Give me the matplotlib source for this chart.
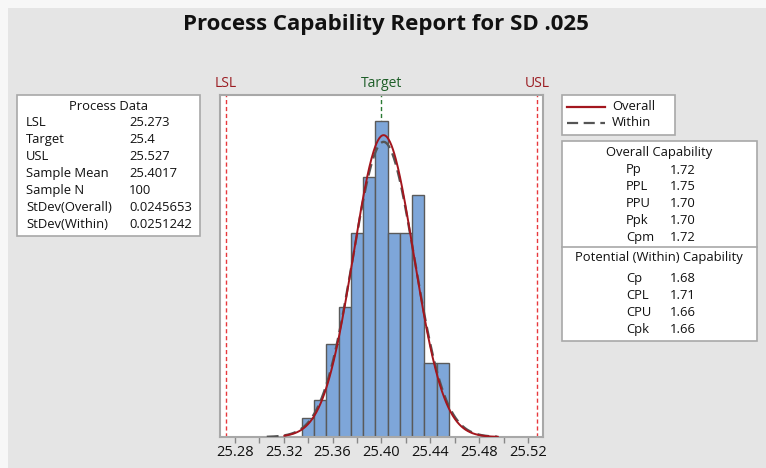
import numpy as np
import matplotlib.pyplot as plt
from matplotlib.patches import Rectangle
from matplotlib.ticker import MultipleLocator

plt.rcParams['font.family'] = ['Open Sans', 'DejaVu Sans']

# histogram data (bin width 0.01)
bin_edges = [25.335, 25.345, 25.355, 25.365, 25.375, 25.385, 25.395,
             25.405, 25.415, 25.425, 25.435, 25.445, 25.455]
counts = [1, 2, 5, 7, 11, 14, 17, 11, 11, 13, 4, 4]

lsl, target, usl = 25.273, 25.4, 25.527
mean, n = 25.4017, 100
sd_overall, sd_within = 0.0245653, 0.0251242

proc_labels = ['LSL', 'Target', 'USL', 'Sample Mean', 'Sample N',
               'StDev(Overall)', 'StDev(Within)']
proc_values = ['25.273', '25.4', '25.527', '25.4017', '100',
               '0.0245653', '0.0251242']
overall_labels = ['Pp', 'PPL', 'PPU', 'Ppk', 'Cpm']
overall_values = ['1.72', '1.75', '1.70', '1.70', '1.72']
within_labels = ['Cp', 'CPL', 'CPU', 'Cpk']
within_values = ['1.68', '1.71', '1.66', '1.66']

W, H = 766, 468
fig = plt.figure(figsize=(W / 100, H / 100), dpi=100)
fig.patch.set_facecolor('#f7f7f7')


def fx(x):
    return x / W


def fy(y):
    return 1 - y / H


def box(x0, y0, x1, y1):
    fig.patches.append(Rectangle((fx(x0), fy(y1)), fx(x1) - fx(x0), fy(y0) - fy(y1),
                                 transform=fig.transFigure, facecolor='white',
                                 edgecolor='#a8a8a8', lw=1.2, zorder=1))


def txt(x, y, s, ha='left', **kw):
    fig.text(fx(x), fy(y), s, ha=ha, va='center', fontsize=9.4, color='#111111', **kw)


# gray panel (behind everything)
fig.patches.append(Rectangle((fx(8), 0), 1, fy(8), transform=fig.transFigure,
                             facecolor='#e5e5e5', edgecolor='none', zorder=-10))

fig.text(fx(386), fy(24.5), 'Process Capability Report for SD .025', ha='center',
         va='center', fontsize=16, fontweight='bold', color='#111111')

# histogram
ax = fig.add_axes([fx(220), fy(437), fx(543) - fx(220), fy(95) - fy(437)])
ax.hist(bin_edges[:-1], bins=bin_edges, weights=counts, color='#7ea6d9',
        edgecolor='#5a5a5a', lw=1, zorder=2)
bw = bin_edges[1] - bin_edges[0]
xs = np.linspace(mean - 3.8 * sd_within, mean + 3.7 * sd_within, 300)
within_y = n * bw * np.exp(-0.5 * ((xs - mean) / sd_within) ** 2) / (sd_within * np.sqrt(2 * np.pi))
xo = np.linspace(mean - 3.3 * sd_overall, mean + 3.8 * sd_overall, 300)
overall_y = n * bw * np.exp(-0.5 * ((xo - mean) / sd_overall) ** 2) / (sd_overall * np.sqrt(2 * np.pi))
ax.plot(xs, within_y, color='#555555', lw=1.7, ls=(0, (5, 2.5)), zorder=4)
ax.plot(xo, overall_y, color='#a3161e', lw=1.4, zorder=5)
ax.axvline(lsl, color='#e8383d', lw=1, ls=(0, (3, 2)), zorder=1)
ax.axvline(usl, color='#e8383d', lw=1, ls=(0, (3, 2)), zorder=1)
ax.axvline(target, color='#2a7a33', lw=1, ls=(0, (3, 2)), zorder=1)
ax.set_xlim(25.268, 25.532)
ax.set_ylim(0, 18.4)
ax.set_yticks([])
ax.xaxis.set_minor_locator(MultipleLocator(0.02))
ticks = np.arange(25.28, 25.521, 0.04)
ax.set_xticks(ticks)
ax.set_xticklabels(['%.2f' % v for v in ticks])
ax.tick_params(axis='x', which='major', length=4, width=1, color='#888888',
               labelsize=10.5, labelcolor='#111111', pad=2)
ax.tick_params(axis='x', which='minor', length=4, width=1, color='#888888')
for s in ax.spines.values():
    s.set_color('#a8a8a8')
    s.set_linewidth(1.5)
ax.text(lsl, 1.012, 'LSL', transform=ax.get_xaxis_transform(), ha='center',
        va='bottom', fontsize=10, color='#9b1c22')
ax.text(usl, 1.012, 'USL', transform=ax.get_xaxis_transform(), ha='center',
        va='bottom', fontsize=10, color='#9b1c22')
ax.text(target, 1.012, 'Target', transform=ax.get_xaxis_transform(), ha='center',
        va='bottom', fontsize=10, color='#1e5e28')

# process data table
box(17, 95, 200, 236)
txt(108, 106, 'Process Data', ha='center')
for i, (lab, val) in enumerate(zip(proc_labels, proc_values)):
    y = 122.7 + i * 16.95
    txt(26, y, lab)
    txt(129, y, val)

# legend
box(562, 95, 675, 135)
fig.lines.append(plt.Line2D([fx(567), fx(605)], [fy(106.5)] * 2, transform=fig.transFigure,
                            color='#a3161e', lw=1.6))
fig.lines.append(plt.Line2D([fx(567), fx(605)], [fy(122.5)] * 2, transform=fig.transFigure,
                            color='#555555', lw=1.6, ls=(0, (5, 2.5))))
txt(612, 106.5, 'Overall')
txt(612, 122.5, 'Within')

# capability table
box(562, 141, 757, 341)
fig.lines.append(plt.Line2D([fx(562), fx(757)], [fy(247)] * 2, transform=fig.transFigure,
                            color='#a8a8a8', lw=1.2))
txt(659, 152.7, 'Overall Capability', ha='center')
for i, (lab, val) in enumerate(zip(overall_labels, overall_values)):
    y = 170 + i * 16.9
    txt(626, y, lab)
    txt(670, y, val)
txt(659, 258, 'Potential (Within) Capability', ha='center')
for i, (lab, val) in enumerate(zip(within_labels, within_values)):
    y = 278.3 + i * 17.2
    txt(626, y, lab)
    txt(670, y, val)

fig.savefig('out.png', dpi=100, facecolor=fig.get_facecolor())
